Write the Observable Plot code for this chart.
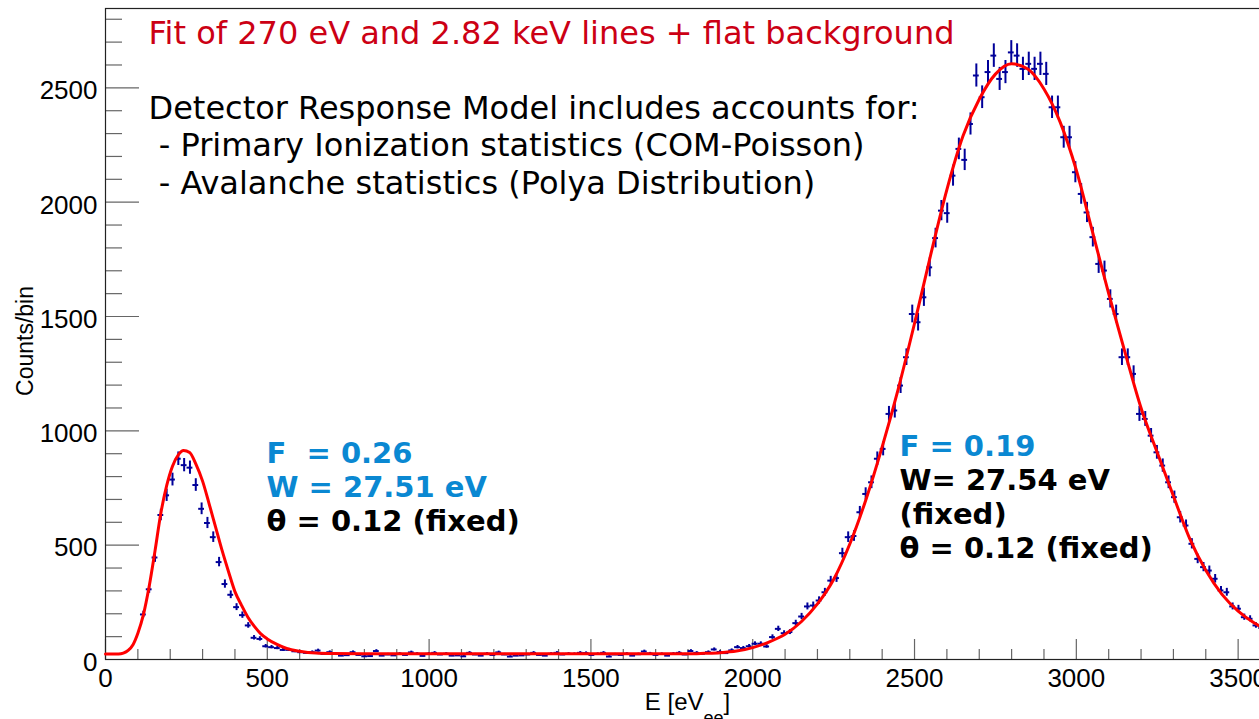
<!DOCTYPE html>
<html>
<head>
<meta charset="utf-8">
<script src="https://cdn.jsdelivr.net/npm/d3@7"></script>
<script src="https://cdn.jsdelivr.net/npm/@observablehq/plot@0.6"></script>
<style>
  html, body { margin: 0; padding: 0; background: #fff; overflow: hidden; }
  #chart svg { max-width: none !important; }
</style>
</head>
<body>
<div id="chart"></div>
<script>
// Energy histogram: 18 eV bins over 0–3600 eV; the first filled bin is centred at 117 eV.
const binWidth = 18;
const firstBinCenter = 117;

// Counts per bin, 270 eV line (117–567 eV)
const lowPeakCounts = [197, 307, 446, 632, 718, 787, 878, 850, 839, 763, 659, 597, 535, 426, 330, 283,
  229, 194, 149, 95, 90, 58, 54, 50, 42, 42];

// Counts per bin, flat region and rising edge (585–2205 eV)
const plateauCounts = [36, 32, 29, 32, 39, 24, 32, 25, 17, 19, 32, 20, 14, 15, 37, 17, 22, 18, 25, 20,
  31, 25, 16, 25, 29, 22, 25, 17, 18, 14, 29, 22, 17, 25, 20, 31, 22, 13, 17, 18, 22, 29, 20, 17, 25, 29,
  22, 25, 24, 29, 28, 20, 24, 29, 13, 22, 20, 25, 17, 23, 35, 26, 20, 24, 17, 25, 29, 22, 37, 29, 25, 32,
  44, 33, 28, 40, 54, 50, 58, 69, 69, 57, 98, 134, 115, 120, 159, 188, 232, 236, 258];

// Counts per bin, 2.82 keV line (2223–3591 eV)
const highPeakCounts = [294, 345, 356, 465, 535, 540, 644, 724, 775, 878, 921, 1074, 1089, 1198, 1322,
  1511, 1475, 1584, 1715, 1843, 1963, 1952, 2116, 2233, 2185, 2342, 2554, 2459, 2569, 2641, 2539, 2569,
  2655, 2641, 2583, 2605, 2583, 2605, 2561, 2415, 2415, 2284, 2284, 2131, 2036, 1955, 1847, 1730, 1701,
  1577, 1511, 1322, 1322, 1249, 1074, 1052, 979, 906, 848, 775, 710, 622, 586, 506, 440, 404, 389, 353,
  302, 294, 232, 222, 185, 178, 149, 138, 120];

// Fitted detector response (two lines + flat background)
const fitEnergy = [0, 40, 55, 70, 85, 100, 117, 135, 153, 171, 189, 207, 225, 241, 260, 280, 300, 320,
  340, 360, 380, 400, 420, 440, 460, 480, 500, 530, 560, 600, 650, 700, 800, 1000, 1200, 1400, 1600,
  1800, 1850, 1900, 1950, 2000, 2050, 2100, 2150, 2200, 2250, 2300, 2350, 2400, 2450, 2500, 2550, 2600,
  2650, 2700, 2750, 2800, 2850, 2900, 2950, 3000, 3050, 3100, 3150, 3200, 3250, 3300, 3350, 3400, 3450,
  3500, 3550, 3600];
const fitCounts = [24, 24, 28, 40, 65, 115, 195, 320, 475, 640, 760, 845, 895, 914, 905, 852, 780, 682,
  580, 478, 385, 297, 238, 185, 145, 112, 90, 66, 48, 36, 28, 26, 25, 25, 25, 25, 25,
  25, 27, 30, 37, 52, 76, 110, 165, 243, 350, 505, 700, 930, 1185, 1470, 1770, 2055,
  2290, 2450, 2560, 2605, 2582, 2495, 2350, 2140, 1870, 1600, 1345, 1100, 905, 715, 530, 390, 285,
  212, 160, 122];

// Axis ticks
const xMajorTicks = [0, 500, 1000, 1500, 2000, 2500, 3000, 3500];
const xMinorTicks = d3.range(0, 3601, 100).filter(v => v % 500 !== 0);
const yMajorTicks = [0, 500, 1000, 1500, 2000, 2500];
const yMinorTicks = d3.range(0, 2801, 100).filter(v => v % 500 !== 0);

const counts = lowPeakCounts.concat(plateauCounts, highPeakCounts);
const hist = counts.map((c, i) => ({e: firstBinCenter + i * binWidth, c, err: Math.sqrt(c)}));
const fit = fitEnergy.map((e, i) => ({e, c: fitCounts[i]}));

const width = 1275, height = 719;
const margin = {top: 8, right: 5, bottom: 60, left: 105};
const frameW = width - margin.left - margin.right;
const frameH = height - margin.top - margin.bottom;

const pointColor = "#000099";
const tickColor = "#666";
const sans = "Liberation Sans, Arial, Helvetica, sans-serif";
const deja = "DejaVu Sans, Verdana, sans-serif";
const blue = "#0a88d2";

const chart = Plot.plot({
  width, height,
  marginTop: margin.top, marginRight: margin.right, marginBottom: margin.bottom, marginLeft: margin.left,
  x: {domain: [0, 3600], axis: null},
  y: {domain: [0, 2847], axis: null},
  style: {background: "#fff", overflow: "visible", maxWidth: "none"},
  marks: [
    // ticks drawn inside the frame
    Plot.tickY(yMinorTicks, {y: d => d, insetRight: frameW - 17, stroke: tickColor, strokeWidth: 1.2}),
    Plot.tickY(yMajorTicks, {y: d => d, insetRight: frameW - 34, stroke: tickColor, strokeWidth: 1.2}),
    Plot.tickX(xMinorTicks, {x: d => d, insetTop: frameH - 10, stroke: tickColor, strokeWidth: 1.2}),
    Plot.tickX(xMajorTicks, {x: d => d, insetTop: frameH - 20, stroke: tickColor, strokeWidth: 1.2}),
    Plot.frame({stroke: "#222", strokeWidth: 1.2}),

    // tick labels
    Plot.text(yMajorTicks, {y: d => d, text: d => String(d), frameAnchor: "left", dx: -8, dy: 3,
      textAnchor: "end", lineAnchor: "middle", fontFamily: sans, fontSize: 26, fill: "#000"}),
    Plot.text(xMajorTicks, {x: d => d, text: d => String(d), frameAnchor: "bottom", dy: 19,
      textAnchor: "middle", lineAnchor: "middle", fontFamily: sans, fontSize: 26, fill: "#000"}),
    Plot.text(["Counts/bin"], {frameAnchor: "left", rotate: -90, dx: -80, dy: 7,
      textAnchor: "middle", lineAnchor: "middle", fontFamily: sans, fontSize: 23, fill: "#000"}),

    // data with statistical error bars and bin-width bars
    Plot.ruleX(hist, {x: "e", y1: d => d.c - d.err, y2: d => d.c + d.err, stroke: pointColor, strokeWidth: 2}),
    Plot.ruleY(hist, {y: "c", x1: d => d.e - binWidth / 2, x2: d => d.e + binWidth / 2, stroke: pointColor, strokeWidth: 2}),

    // fit
    Plot.line(fit, {x: "e", y: "c", stroke: "#ff0000", strokeWidth: 3, curve: "monotone-x"}),

    // annotations
    Plot.text(["Fit of 270 eV and 2.82 keV lines + flat background"], {frameAnchor: "top-left",
      dx: 43, dy: 35.5, lineAnchor: "bottom", textAnchor: "start", fontFamily: deja, fontSize: 32, fill: "#cc0014"}),
    Plot.text(["Detector Response Model includes accounts for:\n\u00a0- Primary Ionization statistics (COM-Poisson)\n\u00a0- Avalanche statistics (Polya Distribution)"],
      {frameAnchor: "top-left", dx: 43, dy: 185, lineAnchor: "bottom", lineHeight: 1.172, textAnchor: "start",
       fontFamily: deja, fontSize: 32, fill: "#000"}),
    Plot.text(["F\u00a0 = 0.26\nW = 27.51 eV"], {frameAnchor: "top-left", dx: 161, dy: 488, lineAnchor: "bottom",
      lineHeight: 1.172, textAnchor: "start", fontFamily: deja, fontWeight: "bold", fontSize: 29, fill: blue}),
    Plot.text(["θ = 0.12 (fixed)"], {frameAnchor: "top-left", dx: 161, dy: 522, lineAnchor: "bottom",
      textAnchor: "start", fontFamily: deja, fontWeight: "bold", fontSize: 29, fill: "#000"}),
    Plot.text(["F = 0.19"], {frameAnchor: "top-left", dx: 794, dy: 447, lineAnchor: "bottom",
      textAnchor: "start", fontFamily: deja, fontWeight: "bold", fontSize: 29, fill: blue}),
    Plot.text(["W= 27.54 eV\n(fixed)\nθ = 0.12 (fixed)"], {frameAnchor: "top-left", dx: 794, dy: 549,
      lineAnchor: "bottom", lineHeight: 1.172, textAnchor: "start", fontFamily: deja, fontWeight: "bold",
      fontSize: 29, fill: "#000"})
  ]
});

document.getElementById("chart").appendChild(chart);

// x-axis title with subscript
const xs = chart.scale("x");
const title = d3.select(chart).append("text")
  .attr("x", (xs.apply(0) + xs.apply(3600)) / 2)
  .attr("y", 710)
  .attr("text-anchor", "middle")
  .attr("font-family", sans)
  .attr("font-size", 24)
  .attr("fill", "#000");
title.append("tspan").text("E [eV");
title.append("tspan").attr("font-size", 18).attr("dy", 14).text("ee");
title.append("tspan").attr("dy", -14).text("]");
</script>
</body>
</html>
